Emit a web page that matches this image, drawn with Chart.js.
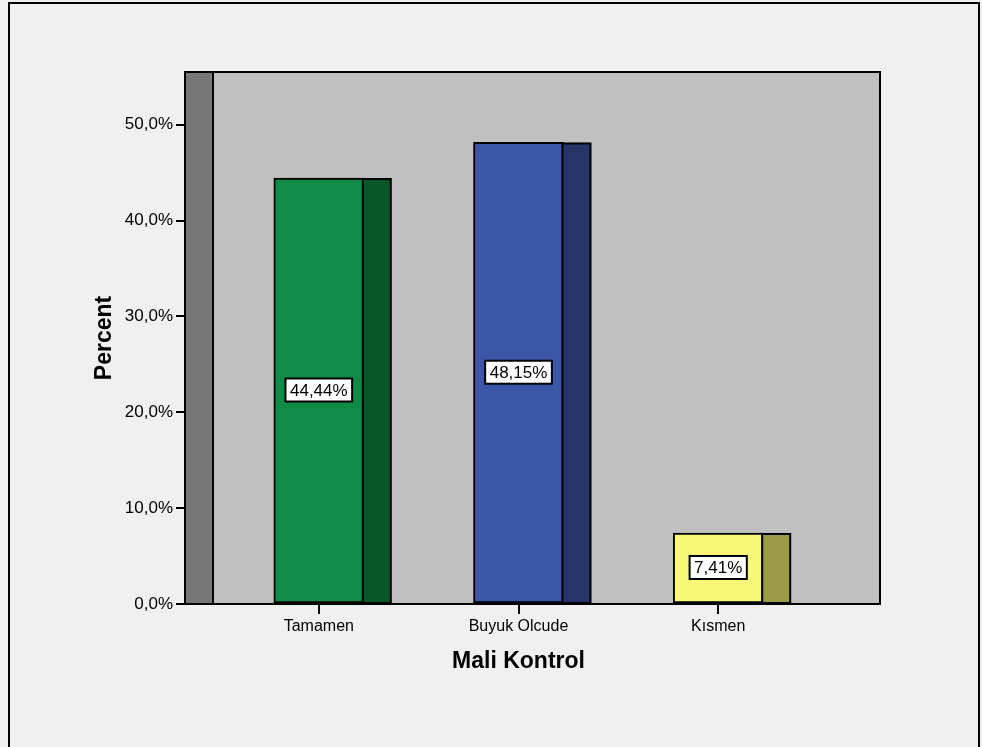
<!DOCTYPE html>
<html lang="tr">
<head>
    <meta charset="UTF-8">
    <title>Mali Kontrol</title>
    <style>
        html, body { margin: 0; padding: 0; background: #f0f0f0; }
        #chartBox { width: 982px; height: 747px; }
    </style>
</head>
<body>
    <div id="chartBox">
        <canvas id="maliKontrol" width="982" height="747"></canvas>
    </div>

    <!-- Chart.js -->
    <script src="https://cdn.jsdelivr.net/npm/chart.js@4.4.1/dist/chart.umd.min.js"></script>

    <script>
        // Categories and their percentages
        var categories = ['Tamamen', 'Buyuk Olcude', 'Kısmen'];
        var percents = [44.44, 48.15, 7.41];
        var yTicks = [0, 10, 20, 30, 40, 50];

        // Front and side colours of each bar
        var frontColors = ['#0f8b47', '#3d57a8', '#faf677'];
        var sideColors = ['#07572b', '#263467', '#9c9b48'];

        var FONT = '"Liberation Sans", Arial, sans-serif';
        var DEPTH = 28; // depth of the fake 3D walls and bar sides

        function commaNum(v, digits) {
            return v.toFixed(digits).replace('.', ',');
        }

        // Page frame, back wall, bar sides and value boxes
        var fake3d = {
            id: 'fake3d',
            beforeDraw: function(chart) {
                var ctx = chart.ctx;
                ctx.save();
                ctx.fillStyle = '#f0f0f0';
                ctx.fillRect(0, 0, chart.width, chart.height);
                ctx.lineWidth = 2;
                ctx.strokeStyle = '#000';
                ctx.strokeRect(9, 3, 970, chart.height + 20);
                ctx.restore();
            },
            beforeDatasetsDraw: function(chart) {
                var a = chart.chartArea, ctx = chart.ctx;
                var h = a.bottom - a.top;
                ctx.save();
                ctx.fillStyle = '#c0c0c0';
                ctx.fillRect(a.left, a.top, a.right - a.left + DEPTH, h);
                ctx.fillStyle = '#777777';
                ctx.fillRect(a.left, a.top, DEPTH, h);
                ctx.restore();
            },
            afterDatasetsDraw: function(chart) {
                var a = chart.chartArea, ctx = chart.ctx;
                var meta = chart.getDatasetMeta(0);
                ctx.save();
                ctx.lineWidth = 2;
                ctx.strokeStyle = '#000';

                // side of each bar, lined up with the front border
                meta.data.forEach(function(bar, i) {
                    var p = bar.getProps(['x', 'y', 'base', 'width'], true);
                    var x0 = p.x + p.width / 2 - 1;
                    var top = p.y + 1;
                    ctx.fillStyle = sideColors[i];
                    ctx.fillRect(x0, top, DEPTH, p.base - top);
                    ctx.strokeRect(x0, top, DEPTH, p.base - top);
                });

                // plot box and left wall edge
                ctx.strokeRect(a.left, a.top, a.right - a.left + DEPTH, a.bottom - a.top);
                ctx.beginPath();
                ctx.moveTo(a.left + DEPTH, a.top);
                ctx.lineTo(a.left + DEPTH, a.bottom);
                ctx.stroke();

                // value boxes in the middle of each bar
                ctx.font = '17px ' + FONT;
                ctx.textAlign = 'center';
                ctx.textBaseline = 'middle';
                meta.data.forEach(function(bar, i) {
                    var p = bar.getProps(['x', 'y', 'base'], true);
                    var txt = commaNum(percents[i], 2) + '%';
                    var w = ctx.measureText(txt).width + 9;
                    var cy = (p.y + p.base) / 2 - 1;
                    ctx.fillStyle = '#fff';
                    ctx.fillRect(p.x - w / 2, cy - 11, w, 23);
                    ctx.strokeRect(p.x - w / 2, cy - 11, w, 23);
                    ctx.fillStyle = '#000';
                    ctx.fillText(txt, p.x, cy + 1.5);
                });
                ctx.restore();
            }
        };

        var ctx = document.getElementById('maliKontrol');
        var myChart = new Chart(ctx, {
            type: 'bar',
            data: {
                datasets: [{
                    label: 'Percent',
                    data: categories.map(function(c, i) { return {x: i, y: percents[i]}; }),
                    backgroundColor: frontColors,
                    borderColor: '#000',
                    borderWidth: 2,
                    borderSkipped: false,
                    barThickness: 90
                }]
            },
            options: {
                responsive: false,
                animation: false,
                layout: {
                    padding: {left: 0, top: 72, right: 130, bottom: 0}
                },
                plugins: {
                    legend: {display: false},
                    tooltip: {enabled: false}
                },
                scales: {
                    x: {
                        type: 'linear',
                        offset: false,
                        min: -0.67,
                        max: 2.67,
                        afterFit: function(scale) { scale.height = 143; },
                        border: {display: false},
                        grid: {
                            offset: false,
                            drawOnChartArea: false,
                            color: '#000',
                            lineWidth: 2,
                            tickLength: 10
                        },
                        ticks: {
                            stepSize: 1,
                            includeBounds: false,
                            maxRotation: 0,
                            padding: 3,
                            color: '#000',
                            font: {family: FONT, size: 16},
                            callback: function(v) { return categories[v] || ''; }
                        },
                        title: {
                            display: true,
                            text: 'Mali Kontrol',
                            color: '#000',
                            font: {family: FONT, size: 23, weight: 'bold'},
                            padding: {top: 4, bottom: 72}
                        }
                    },
                    y: {
                        min: 0,
                        max: 55.5,
                        afterFit: function(scale) { scale.width = 185; },
                        afterBuildTicks: function(scale) {
                            scale.ticks = yTicks.map(function(v) { return {value: v}; });
                        },
                        border: {display: false},
                        grid: {
                            drawOnChartArea: false,
                            color: '#000',
                            lineWidth: 2,
                            tickLength: 9
                        },
                        ticks: {
                            padding: 3,
                            color: '#000',
                            font: {family: FONT, size: 17},
                            callback: function(v) { return commaNum(v, 1) + '%'; }
                        },
                        title: {
                            display: true,
                            text: 'Percent',
                            color: '#000',
                            font: {family: FONT, size: 23, weight: 'bold'},
                            padding: {top: 91, bottom: 0}
                        }
                    }
                }
            },
            plugins: [fake3d]
        });
    </script>
</body>
</html>
